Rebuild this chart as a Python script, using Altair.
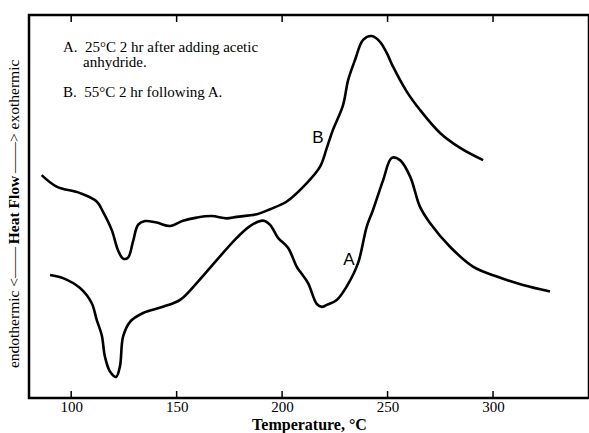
import altair as alt
import pandas as pd

# Curve B (55°C 2 hr following A)
b_temp = [86.0, 93.1, 104.2, 112.1, 115.1, 119.2, 122.2, 124.6, 126.9, 129.3, 131.7, 135.0,
          140.5, 146.9, 153.0, 159.5, 166.6, 173.7, 178.5, 188.0, 194.3, 202.2, 211.7, 218.0,
          221.2, 224.1, 228.9, 231.3, 234.6, 238.4, 242.5, 246.4, 249.6, 252.6, 259.1, 265.4,
          274.9, 284.4, 295.3]
b_flow = [58.2, 55.2, 53.5, 51.3, 48.6, 43.9, 38.6, 36.4, 36.6, 40.8, 45.2, 46.2,
          45.8, 44.9, 46.3, 47.1, 47.5, 46.9, 47.3, 48.0, 49.3, 51.3, 56.1, 60.4,
          65.3, 70.0, 76.5, 83.0, 88.3, 93.5, 94.5, 93.0, 90.1, 86.5, 80.0, 75.2,
          69.2, 65.3, 62.1]

# Curve A (25°C 2 hr after adding acetic anhydride)
a_temp = [90.0, 96.1, 104.2, 109.7, 112.1, 114.5, 116.0, 118.4, 121.3, 123.1, 124.6, 127.9,
          134.1, 143.5, 151.6, 159.5, 169.0, 178.5, 184.8, 191.0, 194.3, 198.1, 202.8, 206.9,
          208.5, 212.3, 216.4, 218.8, 221.2, 225.9, 230.6, 236.0, 240.1, 243.1, 247.9, 252.0,
          255.9, 260.7, 265.4, 270.1, 279.6, 290.5, 301.8, 314.2, 327.0]
a_flow = [32.1, 31.3, 28.7, 24.8, 20.4, 16.4, 10.8, 6.9, 5.5, 8.2, 16.0, 19.9,
          22.2, 23.8, 25.6, 30.0, 36.0, 41.8, 44.9, 46.3, 45.2, 41.8, 39.2, 34.3,
          33.0, 30.0, 24.6, 23.8, 24.3, 25.6, 29.1, 35.2, 44.7, 49.1, 56.9, 62.7,
          62.1, 57.8, 49.9, 45.7, 39.5, 34.3, 31.7, 29.5, 27.8]

tick_values = [100, 150, 200, 250, 300]
curve_names = ["A", "B"]
curve_label_temp = [231.7, 217.0]
curve_label_flow = [36.0, 67.9]
legend_lines = ["A.\u00a0 25°C 2 hr after adding acetic",
                "anhydride.",
                "B.\u00a0 55°C 2 hr following A."]
y_title_parts = ["endothermic <\u2014\u2014", "Heat Flow", "\u2014\u2014> exothermic"]

rows = []
for i, (t, v) in enumerate(zip(a_temp, a_flow)):
    rows.append({"T": t, "v": v, "s": "A", "i": i})
for i, (t, v) in enumerate(zip(b_temp, b_flow)):
    rows.append({"T": t, "v": v, "s": "B", "i": i})
curves = pd.DataFrame(rows)
labels = pd.DataFrame({"T": curve_label_temp, "v": curve_label_flow, "name": curve_names})
ticks = pd.DataFrame({"T": tick_values})

SERIF = "Liberation Serif"

x_enc = alt.X("T:Q",
              scale=alt.Scale(domain=[80, 345.5], nice=False, zero=False),
              axis=alt.Axis(values=tick_values, ticks=False, domain=False, grid=False,
                            title="Temperature, °C", labelFont=SERIF, labelFontSize=15,
                            labelColor="black", labelPadding=1, titleFont=SERIF,
                            titleFontSize=16, titleFontWeight="bold", titleColor="black",
                            titlePadding=2))
y_enc = alt.Y("v:Q", scale=alt.Scale(domain=[0, 100], nice=False, zero=False), axis=None)

lines = alt.Chart(curves).mark_line(color="black", strokeWidth=2.6,
                                    interpolate="catmull-rom").encode(
    x=x_enc, y=y_enc, detail="s:N", order="i:Q")

curve_text = alt.Chart(labels).mark_text(font="Liberation Sans", fontSize=17, color="black",
                                         align="center", baseline="middle").encode(
    x=x_enc, y=y_enc, text="name:N")

top_ticks = alt.Chart(ticks).mark_rule(color="black", strokeWidth=1.5).encode(
    x=x_enc, y=alt.value(0), y2=alt.value(7))
bottom_ticks = alt.Chart(ticks).mark_rule(color="black", strokeWidth=1.5).encode(
    x=x_enc, y=alt.value(383), y2=alt.value(376))


def text_layer(txt, x, y, size, weight="normal", align="left", angle=0):
    return alt.Chart(pd.DataFrame({"t": [txt]})).mark_text(
        font=SERIF, fontSize=size, fontWeight=weight, color="black", align=align,
        baseline="middle", angle=angle).encode(x=alt.value(x), y=alt.value(y), text="t:N")


legend = [
    text_layer(legend_lines[0], 34, 32, 15),
    text_layer(legend_lines[1], 54, 47, 15),
    text_layer(legend_lines[2], 34, 77, 15),
]
ytitle = [
    text_layer(y_title_parts[0], -15, 232, 15.5, align="right", angle=270),
    text_layer(y_title_parts[1], -15, 195, 15.5, weight="bold", align="center", angle=270),
    text_layer(y_title_parts[2], -15, 158, 15.5, align="left", angle=270),
]

chart = alt.layer(lines, curve_text, top_ticks, bottom_ticks, *legend, *ytitle).properties(
    width=560, height=383,
    padding={"left": 29, "top": 15, "right": 0, "bottom": 35},
    autosize="none",
    background="white",
).configure_view(stroke="black", strokeWidth=2.5)

chart.save("out.html", embed_options={"renderer": "svg", "actions": False})
